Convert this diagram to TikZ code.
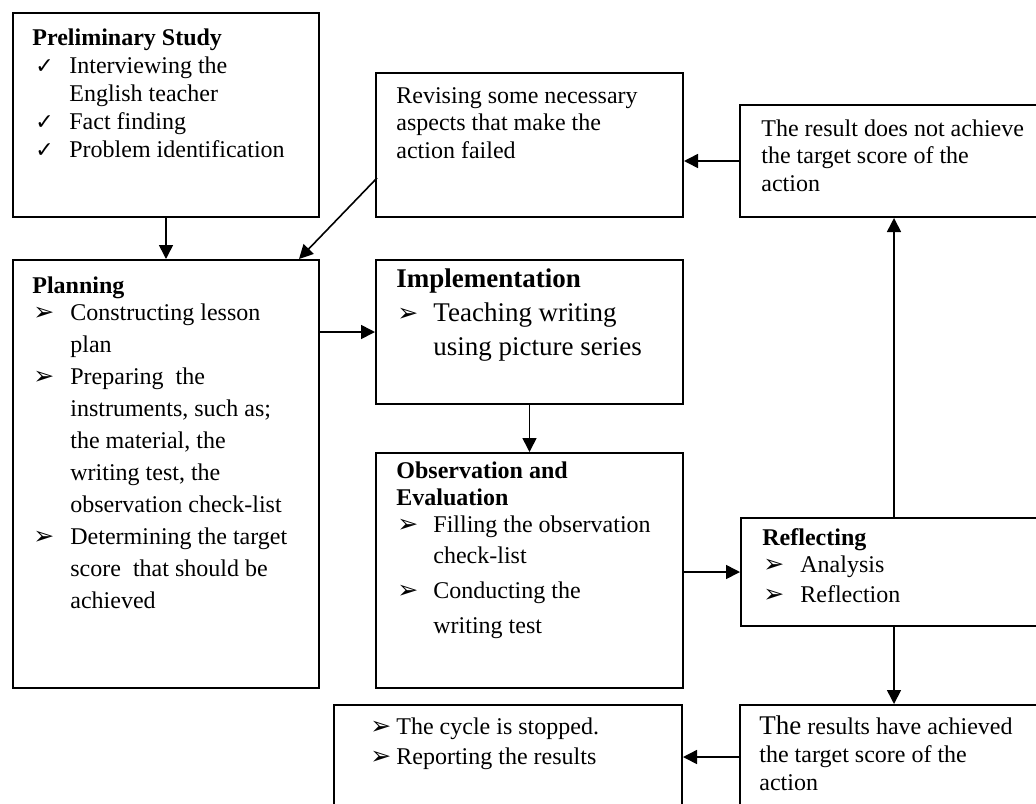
\documentclass[tikz,border=0pt]{standalone}
\usepackage{fontspec}
\setmainfont{Liberation Serif}
\newfontfamily\symfont{DejaVu Sans}
\usetikzlibrary{arrows.meta, calc}

% bullets and text blocks
\newcommand{\bulcheck}{\makebox[18.5pt][l]{\hspace{1.5pt}{\symfont\fontsize{11}{11}\selectfont ✓}}}
\newcommand{\bularrow}[1][18.5pt]{\makebox[#1][l]{\hspace{0.5pt}{\symfont\fontsize{12.5}{12}\selectfont ➢}}}
\newcommand{\bulgap}[1][18.5pt]{\hspace*{#1}}
\newcommand{\blocktext}[1]{\parbox[t]{150pt}{\raggedright #1}}

\begin{document}
\begin{tikzpicture}[
    x=0.5pt, y=-0.5pt,
    box/.style={draw, line width=1pt, anchor=north west, inner sep=0pt},
    txt/.style={anchor=base west, inner sep=0pt},
    arr/.style={-{Triangle[length=7pt, width=7pt]}, line width=0.8pt},
]
    \useasboundingbox (0,0) rectangle (1036,803);

    % boxes
    \node[box, minimum width=153pt, minimum height=102pt] (prelim) at (12,12) {};
    \node[box, minimum width=153.5pt, minimum height=72pt] (revise) at (375,72) {};
    \node[box, minimum width=153.5pt, minimum height=56pt] (result) at (739,104) {};
    \node[box, minimum width=153pt, minimum height=214pt] (planning) at (12,259) {};
    \node[box, minimum width=153.5pt, minimum height=72pt] (impl) at (375,259) {};
    \node[box, minimum width=153.5pt, minimum height=117.5pt] (obs) at (375,452) {};
    \node[box, minimum width=153pt, minimum height=54pt] (reflect) at (740,517) {};
    \node[box, minimum width=174pt, minimum height=52pt] (stop) at (333,704) {};
    \node[box, minimum width=153.5pt, minimum height=52pt] (achieved) at (739,704) {};

    % texts
    \node[txt, font=\fontsize{12}{14}\selectfont] (prelimT) at (32,45) {\blocktext{%
        \textbf{Preliminary Study}\\
        \bulcheck Interviewing the\\
        \bulgap English teacher\\
        \bulcheck Fact finding\\
        \bulcheck Problem identification}};
    \node[txt, font=\fontsize{12}{13.75}\selectfont] (reviseT) at (396,103) {\blocktext{%
        Revising some necessary\\
        aspects that make the\\
        action failed}};
    \node[txt, font=\fontsize{12}{13.75}\selectfont] (resultT) at (761,136) {\blocktext{%
        The result does not achieve\\
        the target score of the\\
        action}};
    \node[txt, font=\fontsize{12}{16}\selectfont] (planningT) at (32,293) {\blocktext{%
        \textbf{Planning}\\[-2.5pt]
        \bularrow[19pt]Constructing lesson\\
        \bulgap[19pt]plan\\
        \bularrow[19pt]Preparing\ \ the\\
        \bulgap[19pt]instruments, such as;\\
        \bulgap[19pt]the material, the\\
        \bulgap[19pt]writing test, the\\
        \bulgap[19pt]observation check-list\\
        \bularrow[19pt]Determining the target\\
        \bulgap[19pt]score\ \ that should be\\
        \bulgap[19pt]achieved}};
    \node[txt, font=\fontsize{13.5}{17}\selectfont] (implT) at (396,287) {\blocktext{%
        \textbf{Implementation}\\
        \bularrow Teaching writing\\
        \bulgap using picture series}};
    \node[txt, font=\fontsize{12}{13.5}\selectfont] (obsT) at (396,478) {\blocktext{%
        \textbf{Observation and}\\
        \textbf{Evaluation}\\
        \bularrow Filling the observation\\[2pt]
        \bulgap check-list\\[4pt]
        \bularrow Conducting the\\[4pt]
        \bulgap writing test}};
    \node[txt, font=\fontsize{12}{13.5}\selectfont] (reflectT) at (762,545) {\blocktext{%
        \textbf{Reflecting}\\
        \bularrow[19pt]Analysis\\[1.5pt]
        \bularrow[19pt]Reflection}};
    \node[txt, font=\fontsize{12}{15}\selectfont] (stopT) at (369,734) {\blocktext{%
        \bularrow[13.5pt]The cycle is stopped.\\
        \bularrow[13.5pt]Reporting the results}};
    \node[txt, font=\fontsize{12}{14}\selectfont] (achievedT) at (759,734) {\blocktext{%
        {\fontsize{13.5}{14}\selectfont The} results have achieved\\
        the target score of the\\
        action}};

    % connectors
    \draw[arr] (prelim) -- (planning);
    \draw[arr] ($(revise.north west)+(2,106)$) -- ($(planning.north east)+(-21,0)$);
    \draw[arr] (planning.east |- impl.west) -- (impl.west);
    \draw[arr] (impl) -- (obs);
    \draw[arr] (obs.east |- reflect.west) -- (reflect.west);
    \draw[arr] (reflect.north) -- (reflect.north |- result.south);
    \draw[arr] (result.west) -- (result.west -| revise.east);
    \draw[arr] (reflect.south) -- (reflect.south |- achieved.north);
    \draw[arr] (achieved.west) -- (achieved.west -| stop.east);
\end{tikzpicture}
\end{document}
